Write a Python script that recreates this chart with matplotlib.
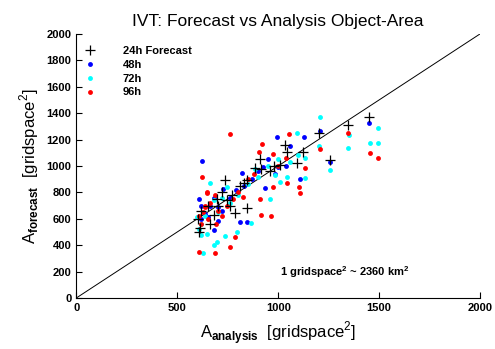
import matplotlib
matplotlib.use('Agg')
import matplotlib.pyplot as plt

plt.rcParams['font.family'] = ['Liberation Sans', 'DejaVu Sans']
plt.rcParams['mathtext.fontset'] = 'custom'
plt.rcParams['mathtext.rm'] = 'Liberation Sans'
plt.rcParams['mathtext.bf'] = 'Liberation Sans:bold'

# values (analysis area, forecast area)
f24_x = [605, 609, 614, 650, 680, 697, 720, 738, 746, 760, 787, 809, 845, 845, 886, 911,
         917, 960, 1010, 1035, 1043, 1092, 1125, 1200, 1257, 1348, 1452, 660, 700, 620,
         770, 830, 980]
f24_y = [600, 500, 530, 700, 630, 747, 800, 894, 742, 700, 641, 848, 679, 894, 983, 1053,
         975, 965, 1008, 1159, 1108, 1020, 1108, 1253, 1045, 1311, 1374, 560, 700, 660,
         780, 870, 1000]

f48_x = [622, 610, 680, 729, 812, 845, 820, 924, 985, 936, 993, 1057, 1129, 1109, 1257,
         1452, 1205, 640, 660, 700, 760, 790, 870, 900, 1000, 620, 650, 720, 830, 950,
         1040, 680, 620, 700]
f48_y = [1038, 750, 515, 823, 578, 578, 945, 990, 937, 831, 1222, 1150, 1222, 901, 1030,
         1323, 1265, 640, 700, 690, 760, 820, 900, 960, 990, 600, 610, 660, 850, 1050,
         1000, 760, 700, 580]

f72_x = [629, 697, 738, 795, 865, 957, 1092, 1134, 1134, 1043, 746, 883, 985, 597, 647,
         680, 663, 1208, 1348, 1257, 1495, 1495, 1351, 620, 640, 700, 760, 800, 850, 900,
         950, 1000, 1060, 1100, 610, 620, 1010, 680, 720, 1200, 1455]
f72_y = [341, 427, 470, 503, 570, 748, 1252, 1060, 911, 919, 838, 975, 930, 611, 485,
         401, 869, 1374, 1134, 970, 1288, 1174, 1235, 560, 620, 650, 720, 780, 860, 920,
         1000, 1050, 1030, 1080, 520, 480, 880, 740, 760, 1150, 1172]

f96_x = [762, 622, 609, 688, 762, 787, 914, 964, 911, 975, 1054, 919, 903, 972, 1134,
         1101, 1109, 1043, 647, 688, 775, 828, 639, 1208, 1348, 1455, 1495, 647, 630, 640,
         660, 700, 720, 800, 850, 880, 620, 650, 745, 1000, 1040, 610, 690]
f96_y = [1242, 919, 351, 341, 389, 465, 629, 621, 750, 840, 1242, 1164, 1103, 1091, 983,
         843, 793, 868, 793, 780, 747, 767, 691, 1126, 1247, 1101, 1061, 805, 650, 700,
         720, 660, 620, 800, 900, 940, 560, 600, 700, 1000, 1060, 620, 560]

fig = plt.figure(figsize=(4.95, 3.49), dpi=100)
ax = fig.add_axes([0.154, 0.146, 0.816, 0.757])

ax.plot([0, 2000], [0, 2000], color='black', linewidth=0.7)

ax.plot(f48_x, f48_y, 'o', color='blue', markersize=3.5, markeredgewidth=0, label='48h')
ax.plot(f72_x, f72_y, 'o', color='cyan', markersize=3.5, markeredgewidth=0, label='72h')
ax.plot(f96_x, f96_y, 'o', color='red', markersize=3.5, markeredgewidth=0, label='96h')
ax.plot(f24_x, f24_y, '+', color='black', markersize=7.5, markeredgewidth=0.9, label='24h Forecast')

handles, labels = ax.get_legend_handles_labels()
order = [3, 0, 1, 2]
leg = ax.legend([handles[i] for i in order], [labels[i] for i in order],
                loc='upper left', frameon=False, prop={'weight': 'bold', 'size': 8},
                handlelength=1.0, handletextpad=2.4, labelspacing=0.35,
                borderaxespad=0.2, bbox_to_anchor=(0.005, 0.98))

ax.set_xlim(0, 2000)
ax.set_ylim(0, 2000)
ax.set_xticks([0, 500, 1000, 1500, 2000])
ax.set_yticks(range(0, 2001, 200))
ax.tick_params(direction='in', length=4, width=0.8, labelsize=8)
for lbl in ax.get_xticklabels() + ax.get_yticklabels():
    lbl.set_fontweight('bold')
ax.spines['top'].set_visible(False)
ax.spines['right'].set_visible(False)

ax.set_title('IVT: Forecast vs Analysis Object-Area', fontsize=12.5, pad=6)
ax.set_xlabel(r'A$_{\mathbf{analysis}}$  [gridspace$^2$]', fontsize=12, labelpad=5)
ax.set_ylabel(r'A$_{\mathbf{forecast}}$  [gridspace$^2$]', fontsize=12)

ax.text(1330, 200, r'1 gridspace$^{\mathbf{2}}$ ~ 2360 km$^{\mathbf{2}}$', ha='center', va='center',
        fontsize=8, fontweight='bold')

fig.savefig('out.png', dpi=100)
